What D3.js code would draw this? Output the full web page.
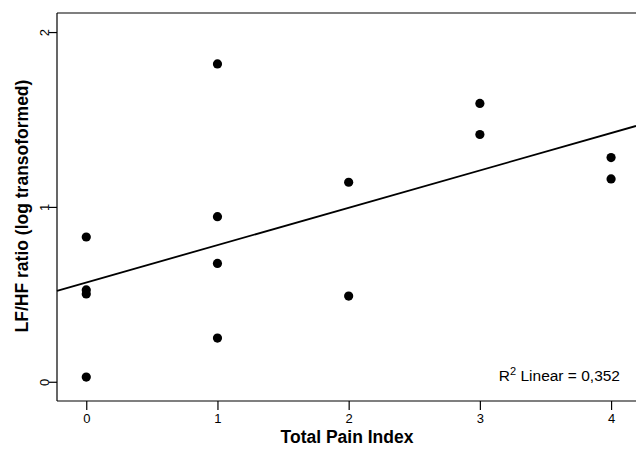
<!DOCTYPE html>
<html><head><meta charset="utf-8">
<script src="https://cdn.jsdelivr.net/npm/d3@7"></script>
<style>body{margin:0;background:#fff}svg{display:block}</style>
</head><body>
<script>
const painIndex = [0,0,0,0,1,1,1,1,2,2,3,3,4,4];
const lfhfRatio = [0.828,0.525,0.502,0.027,1.818,0.944,0.677,0.250,1.141,0.490,1.592,1.414,1.282,1.160];
const xTicks = [0,1,2,3,4];
const yTicks = [0,1,2];
const r2Label = "0,352";

const W=636,H=453;
const svg=d3.select("body").append("svg").attr("width",W).attr("height",H);
const L=57,R=636,T=13,B=401;
const x=d3.scaleLinear().domain([-0.223,4.19]).range([L,R]);
const y=d3.scaleLinear().domain([-0.11,2.109]).range([B,T]);
const font="Liberation Sans, Arial, Helvetica, sans-serif";

// frame
svg.append("line").attr("x1",L).attr("x2",R).attr("y1",T).attr("y2",T).attr("stroke","#000").attr("stroke-width",1.2);

const xa=svg.append("g").attr("transform",`translate(0,${B})`)
  .call(d3.axisBottom(x).tickValues(xTicks).tickSize(9).tickSizeOuter(0).tickFormat(d3.format("d")));
xa.select(".domain").attr("stroke-width",1.2).attr("d",`M${L},0H${R}`);
xa.selectAll(".tick line").attr("stroke-width",1.2);
xa.selectAll(".tick text").attr("font-family",font).attr("font-size",13).attr("fill","#000").attr("y",13);

const ya=svg.append("g").attr("transform",`translate(${L},0)`)
  .call(d3.axisLeft(y).tickValues(yTicks).tickSize(8).tickSizeOuter(0).tickFormat(d3.format("d")));
ya.select(".domain").attr("stroke-width",1.2).attr("d",`M0,${T}V${B}`);
ya.selectAll(".tick line").attr("stroke-width",1.2);
ya.selectAll(".tick text").attr("font-family",font).attr("font-size",13).attr("fill","#000")
  .attr("x",null).attr("text-anchor","middle")
  .attr("transform","translate(-13,0) rotate(-90)").attr("dy","0.35em");

// regression computed from data
const mx=d3.mean(painIndex), my=d3.mean(lfhfRatio);
let sxy=0,sxx=0;
painIndex.forEach((v,i)=>{sxy+=(v-mx)*(lfhfRatio[i]-my);sxx+=(v-mx)*(v-mx);});
const slope=sxy/sxx, icpt=my-slope*mx;
const xd=x.domain();
svg.append("line").attr("x1",x(xd[0])).attr("x2",x(xd[1]))
  .attr("y1",y(icpt+slope*xd[0])).attr("y2",y(icpt+slope*xd[1]))
  .attr("stroke","#000").attr("stroke-width",1.8);

svg.append("g").selectAll("circle").data(painIndex).join("circle")
  .attr("cx",d=>x(d)).attr("cy",(d,i)=>y(lfhfRatio[i])).attr("r",4.6).attr("fill","#000");

// R² label
const t=svg.append("text").attr("x",620).attr("y",381).attr("text-anchor","end")
  .attr("font-family",font).attr("font-size",15.5).attr("fill","#000");
t.append("tspan").text("R");
t.append("tspan").attr("font-size",11).attr("dy",-6).text("2");
t.append("tspan").attr("dy",6).text(" Linear = "+r2Label);

svg.append("text").attr("x",347).attr("y",443).attr("text-anchor","middle")
  .attr("font-family",font).attr("font-size",17.5).attr("font-weight","bold").text("Total Pain Index");
svg.append("text").attr("transform","translate(27.5,206) rotate(-90)").attr("text-anchor","middle")
  .attr("font-family",font).attr("font-size",17.5).attr("font-weight","bold").text("LF/HF ratio (log transoformed)");
</script>
</body></html>
